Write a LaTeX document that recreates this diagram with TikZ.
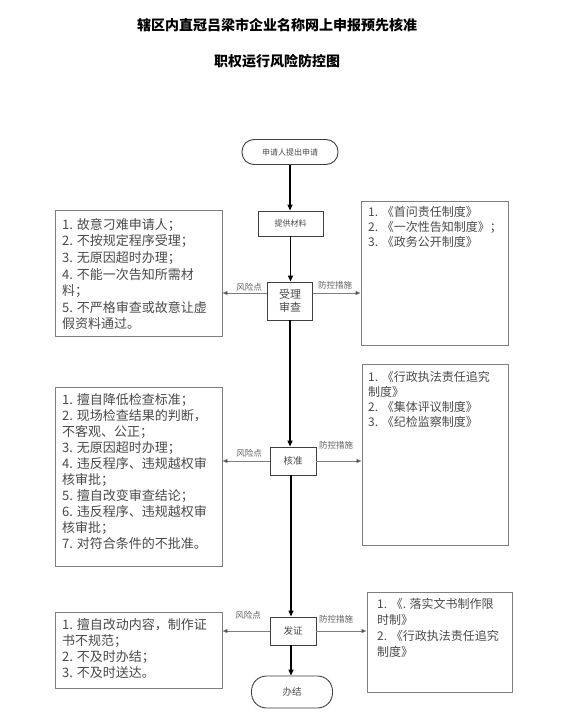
\documentclass[tikz,border=0pt]{standalone}
\usepackage{fontspec}
\setmainfont{Noto Sans CJK SC}
\usetikzlibrary{arrows.meta,calc}
\definecolor{bordergray}{HTML}{7F7F7F}
\definecolor{textgray}{HTML}{4A4A4A}
\definecolor{labelgray}{HTML}{606060}
\tikzset{
  framebox/.style={draw=bordergray,line width=0.9pt,inner sep=0pt,rectangle},
  flowbox/.style={draw=black!75,line width=0.9pt,inner sep=0pt,rectangle,align=center,text=textgray},
  termbox/.style={draw=black!75,line width=0.9pt,inner sep=0pt,rounded corners=12pt,align=center,text=textgray},
  boxtext/.style={anchor=north west,inner sep=0pt,align=left,text=textgray},
  mainarrow/.style={draw=black,line width=1.3pt,-{Triangle[length=6pt,width=5pt]}},
  sidearrow/.style={draw=bordergray,line width=0.8pt,-{Triangle[length=5pt,width=4pt,fill=black]},shorten <=0pt},
  lbl/.style={inner sep=0pt,text=labelgray,font=\fontsize{8.5}{10}\selectfont}
}
\begin{document}
\begin{tikzpicture}[x=1pt,y=-1pt]
\useasboundingbox[fill=white] (0,0) rectangle (564,717);
% titles
\node[inner sep=0pt,font=\fontsize{14}{16}\selectfont\bfseries] (t1) at (277,25) {辖区内直冠吕梁市企业名称网上申报预先核准};
\node[inner sep=0pt,font=\fontsize{14}{16}\selectfont\bfseries] (t2) at (277,61) {职权运行风险防控图};

% main flow nodes
\node[termbox,minimum width=96pt,minimum height=25pt,font=\fontsize{8}{9}\selectfont] (start) at (290,152) {申请人提出申请};
\node[flowbox,minimum width=65pt,minimum height=25pt,font=\fontsize{8}{9}\selectfont] (tg) at (290.5,223.5) {提供材料};
\node[flowbox,minimum width=45pt,minimum height=38pt,font=\fontsize{11}{13}\selectfont] (sl) at (290,301) {受理\\审查};
\node[flowbox,minimum width=46pt,minimum height=28pt,font=\fontsize{9.5}{11}\selectfont] (hz) at (293,461) {核准};
\node[flowbox,minimum width=46pt,minimum height=28pt,font=\fontsize{9.5}{11}\selectfont] (fz) at (293,631) {发证};
\node[termbox,minimum width=81pt,minimum height=32pt,rounded corners=15pt,font=\fontsize{9.5}{11}\selectfont] (bj) at (292,692) {办结};

% side boxes
\node[framebox,minimum width=167pt,minimum height=126pt] (L1) at (138.5,273) {};
\node[framebox,minimum width=167pt,minimum height=179pt] (L2) at (138.5,476.5) {};
\node[framebox,minimum width=167pt,minimum height=76pt] (L3) at (138.5,650) {};
\node[framebox,minimum width=147pt,minimum height=144pt] (R1) at (434.5,273) {};
\node[framebox,minimum width=146pt,minimum height=181pt] (R2) at (435,454.5) {};
\node[framebox,minimum width=145pt,minimum height=100pt] (R3) at (439.5,642) {};

% side box texts
\node[boxtext,font=\fontsize{13}{16.6}\selectfont] (L1t) at (62,218) {1. 故意刁难申请人；\\2. 不按规定程序受理；\\3. 无原因超时办理；\\4. 不能一次告知所需材\\料；\\5. 不严格审查或故意让虚\\假资料通过。};
\node[boxtext,font=\fontsize{13}{16}\selectfont] (L2t) at (62,393) {1. 擅自降低检查标准；\\2. 现场检查结果的判断，\\不客观、公正；\\3. 无原因超时办理；\\4. 违反程序、违规越权审\\核审批；\\5. 擅自改变审查结论；\\6. 违反程序、违规越权审\\核审批；\\7. 对符合条件的不批准。};
\node[boxtext,font=\fontsize{13}{16}\selectfont] (L3t) at (62,618) {1. 擅自改动内容，制作证\\书不规范；\\2. 不及时办结；\\3. 不及时送达。};
\node[boxtext,font=\fontsize{12}{15}\selectfont] (R1t) at (368,206.5) {1. 《首问责任制度》\\2. 《一次性告知制度》；\\3. 《政务公开制度》};
\node[boxtext,font=\fontsize{12}{15}\selectfont] (R2t) at (368,371.5) {1. 《行政执法责任追究\\制度》\\2. 《集体评议制度》\\3. 《纪检监察制度》};
\node[boxtext,font=\fontsize{12}{16}\selectfont] (R3t) at (377,598.5) {1. 《. 落实文书制作限\\时制》\\2. 《行政执法责任追究\\制度》};

% main arrows
\draw[mainarrow] (start.south) -- (start.south |- tg.north);
\draw[mainarrow] (tg.south) -- (tg.south |- sl.north);
\coordinate (mx) at (291,0);
\draw[mainarrow] (sl.south) -- (sl.south |- hz.north);
\draw[mainarrow] (hz.south -| mx) -- (mx |- fz.north);
\draw[mainarrow] (fz.south -| mx) -- (mx |- bj.north);

% side arrows
\coordinate (y1) at (0,293);
\draw[sidearrow] (sl.west |- y1) -- (L1.east |- y1);
\draw[sidearrow] (sl.east |- y1) -- (R1.west |- y1);
\draw[sidearrow] (hz.west) -- (L2.east |- hz.west);
\draw[sidearrow] (hz.east) -- (R2.west |- hz.east);
\draw[sidearrow] (fz.west) -- (L3.east |- fz.west);
\draw[sidearrow] (fz.east) -- (R3.west |- fz.east);

% labels
\node[lbl] (f1) at (249,287) {风险点};
\node[lbl] (c1) at (335,285) {防控措施};
\node[lbl] (f2) at (249,453) {风险点};
\node[lbl] (c2) at (336,445) {防控措施};
\node[lbl] (f3) at (248,615) {风险点};
\node[lbl] (c3) at (336,619) {防控措施};
\end{tikzpicture}
\end{document}
